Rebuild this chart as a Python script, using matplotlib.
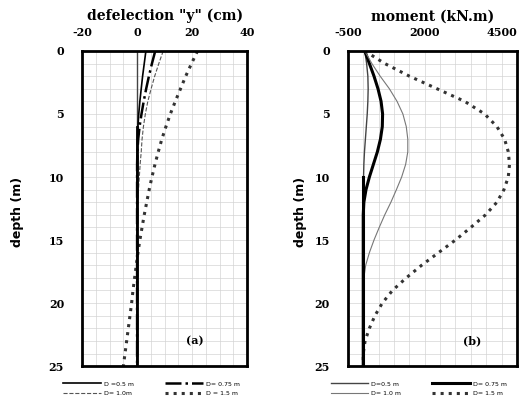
import numpy as np
import matplotlib
matplotlib.use("Agg")
import matplotlib.pyplot as plt
from matplotlib.ticker import MultipleLocator

plt.rcParams["axes.unicode_minus"] = False

# ----- data -----
depth = [0, 1, 2, 3, 4, 5, 6, 7, 8, 9, 10, 11, 12, 13, 14, 15, 16, 17,
         18, 19, 20, 21, 22, 23, 24, 25]

# deflection y (cm)
defl_05 = [3.2, 2.6, 2.0, 1.5, 1.0, 0.6, 0.3, 0.1, 0, 0, 0, 0, 0, 0, 0, 0,
           0, 0, 0, 0, 0, 0, 0, 0, 0, 0]
defl_075 = [6.6, 5.4, 4.3, 3.3, 2.4, 1.6, 0.9, 0.4, 0.1, 0, 0, 0, 0, 0, 0,
            0, 0, 0, 0, 0, 0, 0, 0, 0, 0, 0]
defl_10 = [9.5, 7.9, 6.4, 5.1, 3.9, 3.0, 2.3, 1.8, 1.5, 1.1, 0.8, 0.5, 0.2,
           0, 0, 0, 0, 0, 0, 0, 0, 0, 0, 0, 0, 0]
defl_15 = [22.0, 19.8, 17.7, 15.8, 13.9, 12.1, 10.5, 9.0, 7.7, 6.5, 5.4, 4.4,
           3.5, 2.6, 1.8, 1.0, 0.3, -0.3, -0.9, -1.5, -2.0, -2.6, -3.2,
           -3.8, -4.4, -5.0]

# moment (kN.m)
mom_05 = [50, 110, 150, 160, 150, 130, 100, 70, 40, 20, 10, 0, 0, 0, 0, 0,
          0, 0, 0, 0, 0, 0, 0, 0, 0, 0]
mom_075 = [50, 200, 350, 480, 580, 630, 620, 560, 460, 330, 200, 90, 20,
           0, 0, 0, 0, 0, 0, 0, 0, 0, 0, 0, 0, 0]
mom_10 = [50, 280, 550, 850, 1100, 1290, 1400, 1450, 1450, 1380, 1250, 1080,
          900, 700, 520, 350, 200, 80, 20, 0, 0, 0, 0, 0, 0, 0]
mom_15 = [50, 700, 1500, 2400, 3300, 3950, 4350, 4600, 4720, 4760, 4720,
          4580, 4350, 3980, 3500, 3000, 2450, 1900, 1400, 950, 620, 380,
          200, 60, 0, 0]

labels_a = ["D =0.5 m", "D= 0.75 m", "D= 1.0m", "D = 1.5 m"]
labels_b = ["D=0.5 m", "D= 0.75 m", "D= 1.0 m", "D= 1.5 m"]

serif = "DejaVu Serif"

fig = plt.figure(figsize=(5.2, 4.01), dpi=100)
ax1 = fig.add_axes([0.158, 0.087, 0.317, 0.786])
ax2 = fig.add_axes([0.669, 0.087, 0.325, 0.786])


def style_axes(ax, xlim, xminor, xticks, title, ylab_x):
    ax.set_xlim(*xlim)
    ax.set_ylim(25, 0)
    ax.set_xticks(xticks)
    ax.xaxis.set_minor_locator(MultipleLocator(xminor))
    ax.yaxis.set_major_locator(MultipleLocator(5))
    ax.yaxis.set_minor_locator(MultipleLocator(1))
    ax.xaxis.tick_top()
    ax.xaxis.set_label_position("top")
    ax.tick_params(which="both", length=0)
    ax.tick_params(axis="x", pad=9)
    ax.tick_params(axis="y", pad=13)
    ax.grid(which="both", color="#d4d4d4", lw=0.5)
    ax.set_axisbelow(True)
    for s in ax.spines.values():
        s.set_linewidth(2.0)
    for lab in ax.get_xticklabels() + ax.get_yticklabels():
        lab.set_fontfamily(serif)
        lab.set_fontweight("bold")
        lab.set_fontsize(8)
    ax.set_xlabel(title, fontfamily=serif, fontweight="bold", fontsize=10,
                  labelpad=5)
    ax.set_ylabel("depth (m)", fontfamily="Liberation Sans Narrow",
                  fontweight="bold", fontsize=9)
    ax.yaxis.set_label_coords(ylab_x, 0.49)


def add_legend(ax, lines, labels):
    # legend fills column by column: reorder so rows read 0.5/0.75, 1.0/1.5
    order = [0, 2, 1, 3]
    ax.legend([lines[i] for i in order], [labels[i] for i in order],
              loc="upper center", bbox_to_anchor=(0.42, -0.03), ncol=2,
              frameon=False, fontsize=4.5, handlelength=6,
              columnspacing=5, handletextpad=0.5, labelspacing=0.6)


# ----- deflection panel -----
la = []
la += ax1.plot(defl_05, depth, color="black", lw=1.2)
la += ax1.plot(defl_075, depth, color="black", lw=1.8, ls="-.")
la += ax1.plot(defl_10, depth, color="#555555", lw=0.8, ls="--")
la += ax1.plot(defl_15, depth, color="#333333", lw=2.2, ls=":")
ax1.axvline(0, color="#444444", lw=1.0, zorder=1.5)
ax1.plot([0, 0], [6, 25], color="black", lw=2.0)
style_axes(ax1, (-20, 40), 5, [-20, 0, 20, 40], 'defelection "y" (cm)',
           -0.355)
ax1.text(21, 23, "(a)", fontfamily=serif, fontweight="bold", fontsize=8,
         ha="center", va="center")
add_legend(ax1, la, labels_a)

# ----- moment panel -----
lb = []
lb += ax2.plot(mom_05, depth, color="#444444", lw=1.0)
lb += ax2.plot(mom_075, depth, color="black", lw=2.2)
lb += ax2.plot(mom_10, depth, color="#777777", lw=0.8)
lb += ax2.plot(mom_15, depth, color="#333333", lw=2.2, ls=":")
ax2.plot([0, 0], [10, 25], color="black", lw=2.2)
style_axes(ax2, (-500, 5000), 500, [-500, 2000, 4500], "moment (kN.m)",
           -0.243)
ax2.text(3550, 23, "(b)", fontfamily=serif, fontweight="bold", fontsize=8,
         ha="center", va="center")
add_legend(ax2, lb, labels_b)

fig.savefig("out.png", dpi=100)
